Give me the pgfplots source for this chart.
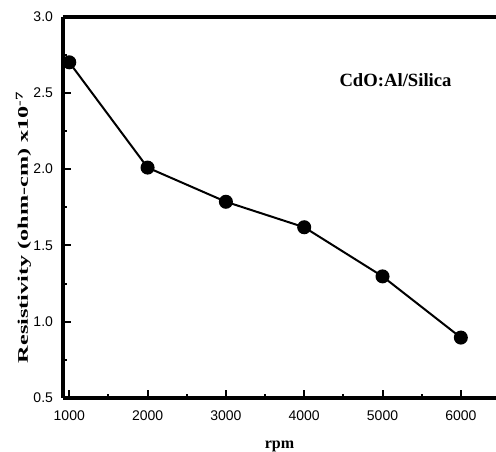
\documentclass[border=0pt]{standalone}
\usepackage{fontspec}
\setmainfont{Liberation Serif}
\setsansfont{Liberation Sans}
\usepackage{graphicx}
\usepackage{pgfplots}
\pgfplotsset{compat=1.18}

\begin{document}
\begin{tikzpicture}
\begin{axis}[
    name=ax,
    scale only axis,
    width=324.75pt, height=286.1pt,
    xmin=920, xmax=6449,
    ymin=0.5, ymax=3.0,
    axis x line*=box,
    axis y line*=left,
    xtick pos=lower,
    ytick pos=left,
    tick align=inside,
    xtick={1000,2000,3000,4000,5000,6000},
    ytick={0.5,1.0,1.5,2.0,2.5,3.0},
    minor x tick num=1,
    minor y tick num=1,
    major tick length=6pt,
    minor tick length=3pt,
    every tick/.style={black, line width=1.5pt},
    axis line style={line width=3pt},
    tick label style={font=\sffamily\fontsize{10.5}{12}\selectfont},
    /pgf/number format/assume math mode=true,
    x tick label style={yshift=-6pt, /pgf/number format/1000 sep={}},
    y tick label style={xshift=-4pt, /pgf/number format/fixed, /pgf/number format/fixed zerofill, /pgf/number format/precision=1},
    xlabel={\bfseries\fontsize{12}{14}\selectfont rpm},
    ylabel={\scalebox{1.65}[1]{\bfseries\fontsize{11}{13}\selectfont Resistivity (ohm-cm) x10\textsuperscript{-7}}},
    xlabel style={yshift=-8.5pt},
    ylabel style={at={(ticklabel cs:0.448)}, yshift=-5pt},
    clip=false,
]
\addplot[black, line width=1.5pt, mark=*, mark size=4.5pt] coordinates {
    (1000,2.70) (2000,2.01) (3000,1.786) (4000,1.619) (5000,1.297) (6000,0.896)
};
\node[font=\bfseries\fontsize{14}{16}\selectfont] at (axis cs:5166,2.58) {CdO:Al/Silica};
\end{axis}
\pgfresetboundingbox
\path ([xshift=-47.25pt, yshift=-40.5pt]ax.south west) rectangle ([yshift=12.4pt]ax.north east);
\end{tikzpicture}
\end{document}
